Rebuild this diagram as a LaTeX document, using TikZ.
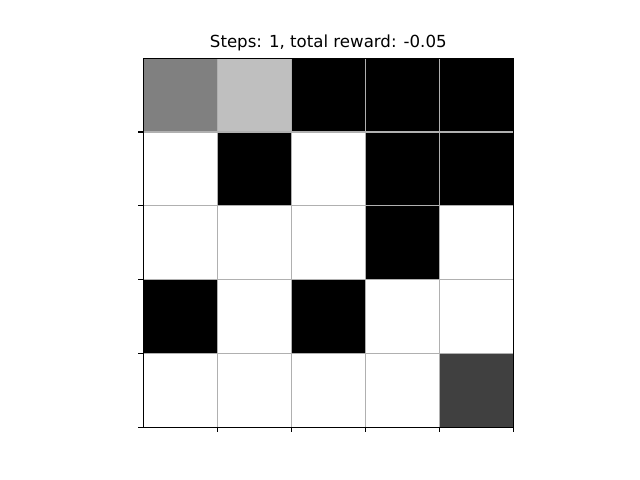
\documentclass[tikz,border=0pt]{standalone}
\usepackage{fontspec}
\setmainfont{DejaVu Sans}
\definecolor{cgray}{RGB}{128,128,128}
\definecolor{clight}{RGB}{191,191,191}
\definecolor{cdark}{RGB}{64,64,64}
\definecolor{gridc}{RGB}{176,176,176}
\tikzset{
  spine/.style={draw=black, line width=0.8pt},
  gridline/.style={draw=gridc, line width=0.8pt},
  tickmark/.style={draw=black, line width=0.8pt},
  titletext/.style={font=\fontsize{12}{14}\selectfont, anchor=base, inner sep=0pt}
}
\begin{document}
\begin{tikzpicture}[x=0.01in, y=-0.01in]
\useasboundingbox (0,0) rectangle (640,480);
\def\L{143.3}\def\T{58.2}\def\W{74}\def\H{73.82}
% cells: value per cell (row-major)
\foreach \row/\vals in {0/{cgray,clight,black,black,black},
                        1/{white,black,white,black,black},
                        2/{white,white,white,black,white},
                        3/{black,white,black,white,white},
                        4/{white,white,white,white,cdark}}{
  \foreach \c [count=\col from 0] in \vals {
    \fill[\c] ({\L+\col*\W},{\T+\row*\H}) rectangle ++(\W,\H);
  }
}
% grid lines
\foreach \i in {1,...,4}{
  \draw[gridline] ({\L+\i*\W},\T) -- ({\L+\i*\W},{\T+5*\H});
  \draw[gridline] (\L,{\T+\i*\H}) -- ({\L+5*\W},{\T+\i*\H});
}
% spines
\draw[spine] (\L,\T) rectangle ({\L+5*\W},{\T+5*\H});
% ticks
\foreach \i in {1,...,5}{
  \draw[tickmark] (\L,{\T+\i*\H}) -- ++(-4.9,0);
  \draw[tickmark] ({\L+\i*\W},{\T+5*\H}) -- ++(0,4.9);
}
\node[titletext] (title) at ({\L+2.5*\W},47.6) {Steps: 1, total reward: -0.05};
\end{tikzpicture}
\end{document}
